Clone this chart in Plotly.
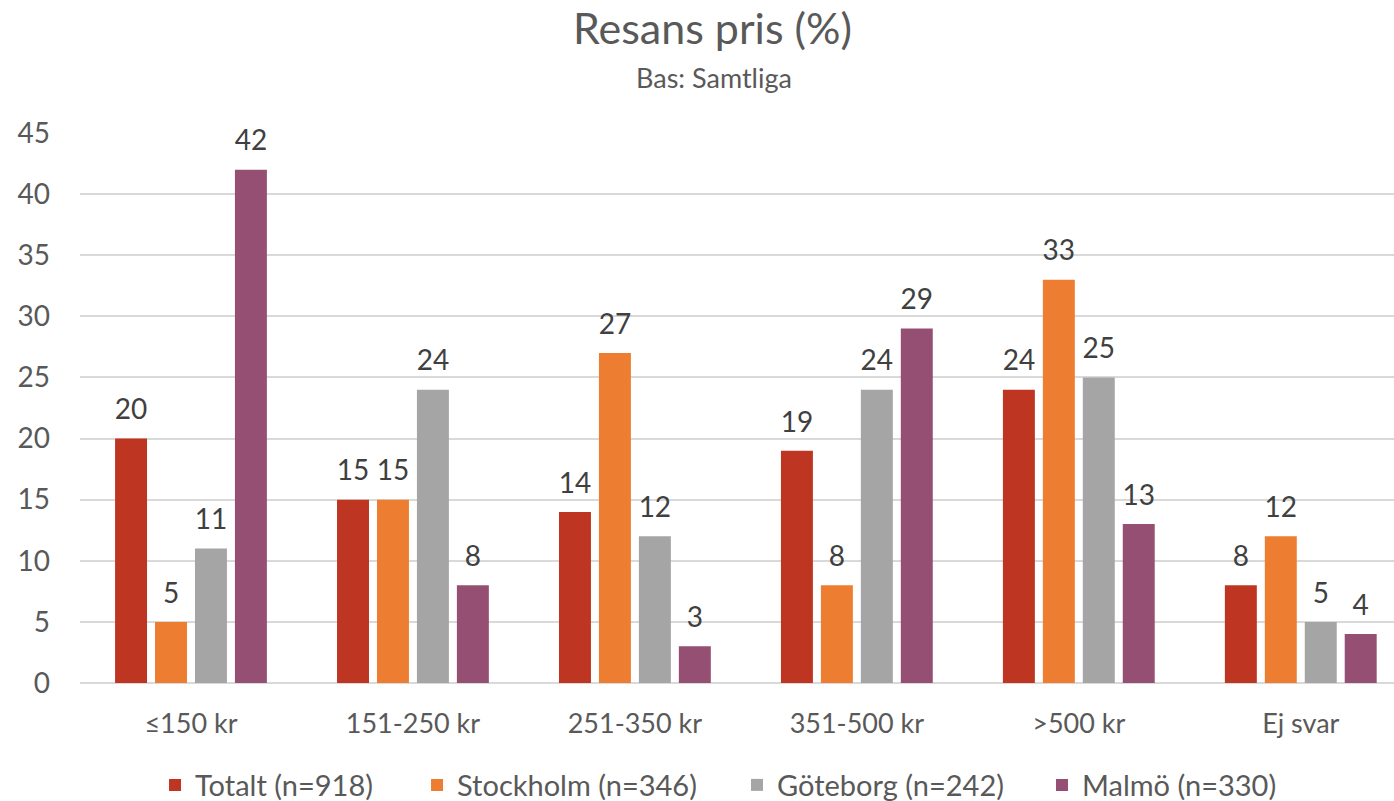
import plotly.graph_objects as go

categories = ["≤150 kr", "151-250 kr", "251-350 kr", "351-500 kr", ">500 kr", "Ej svar"]
series_names = ["Totalt (n=918)", "Stockholm (n=346)", "Göteborg (n=242)", "Malmö (n=330)"]
totalt = [20, 15, 14, 19, 24, 8]
stockholm = [5, 15, 27, 8, 33, 12]
goteborg = [11, 24, 12, 24, 25, 5]
malmo = [42, 8, 3, 29, 13, 4]
y_ticks = [0, 5, 10, 15, 20, 25, 30, 35, 40, 45]

colors = ["#BE3621", "#ED7D31", "#A5A5A5", "#954F72"]
FONT = "Lato, 'Open Sans', sans-serif"
TXT = "#595959"
legend_ids = ["legend", "legend2", "legend3", "legend4"]
legend_x = [0.0571, 0.2565, 0.5, 0.7321]

fig = go.Figure()
all_vals = [totalt, stockholm, goteborg, malmo]
for i, (name, vals, col) in enumerate(zip(series_names, all_vals, colors)):
    fig.add_trace(go.Bar(
        x=categories, y=vals, name=name, offsetgroup=str(i), legend=legend_ids[i],
        marker=dict(color=col, line=dict(width=0)),
    ))
for i, vals in enumerate(all_vals):
    fig.add_trace(go.Scatter(
        x=categories, y=vals, mode="markers+text", offsetgroup=str(i),
        marker=dict(size=18, opacity=0), showlegend=False, hoverinfo="skip",
        text=[str(v) for v in vals], textposition="top center",
        textfont=dict(size=28, color="#404040", family=FONT),
        cliponaxis=False,
    ))

legend_common = dict(orientation="h", xanchor="left", y=-0.1855, yanchor="middle",
                     font=dict(size=29, color=TXT), itemwidth=30, bgcolor="rgba(0,0,0,0)")
layout_legends = {lid: dict(x=lx, **legend_common) for lid, lx in zip(legend_ids, legend_x)}

fig.update_layout(
    width=1394, height=801,
    margin=dict(l=80, r=0, t=133, b=118, autoexpand=False),
    paper_bgcolor="white", plot_bgcolor="white",
    barmode="group", bargap=0.28, bargroupgap=0.2,
    scattermode="group", scattergap=0.28,
    font=dict(family=FONT, color=TXT, size=27),
    showlegend=True,
    annotations=[
        dict(text="Resans pris (%)", xref="paper", yref="paper", x=0.4817, y=1.1927,
             xanchor="center", yanchor="middle", showarrow=False,
             font=dict(size=43, color=TXT, family=FONT)),
        dict(text="Bas: Samtliga", xref="paper", yref="paper", x=0.4825, y=1.10,
             xanchor="center", yanchor="middle", showarrow=False,
             font=dict(size=27, color=TXT, family=FONT)),
    ],
    **layout_legends,
)
fig.update_xaxes(range=[-0.5, 5.42], showgrid=False, showline=False, ticks="",
                 tickfont=dict(size=27, color=TXT), ticklabelstandoff=22)
fig.update_yaxes(range=[0, 45], tickvals=y_ticks, showgrid=True, gridcolor="#D9D9D9", gridwidth=1.5,
                 zeroline=True, zerolinecolor="#D9D9D9", zerolinewidth=1.5, showline=False,
                 ticks="", tickfont=dict(size=28, color=TXT), ticklabelstandoff=29)

fig.write_html("out.html", config={"displayModeBar": False},
               post_script="document.body.style.margin='0';")
